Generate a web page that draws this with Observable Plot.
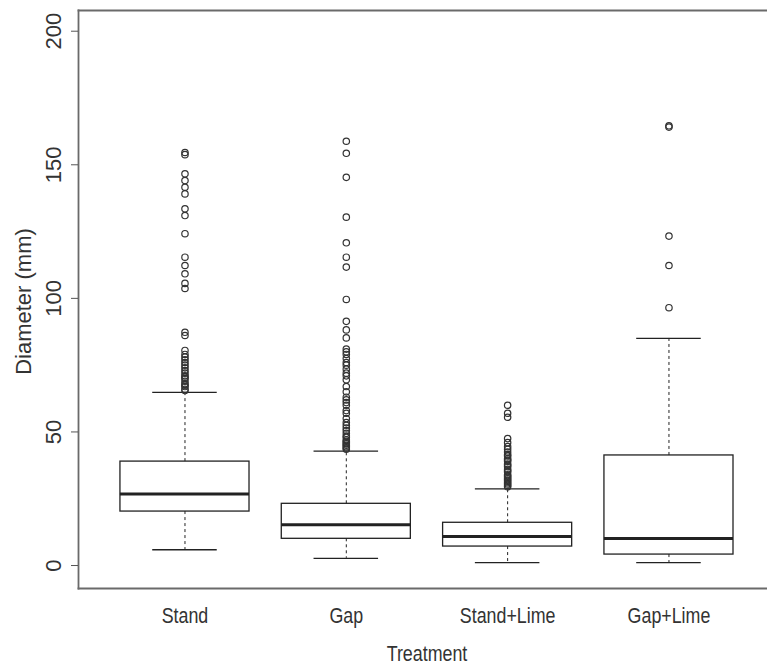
<!DOCTYPE html>
<html><head><meta charset="utf-8">
<script src="https://cdn.jsdelivr.net/npm/d3@7"></script>
<script src="https://cdn.jsdelivr.net/npm/@observablehq/plot@0.6"></script>
<style>body{margin:0;background:#fff}</style>
</head><body><div id="chart"></div>
<script>
const categories = ["Stand", "Gap", "Stand+Lime", "Gap+Lime"];
const lowerWhisker = [5.9, 2.7, 1.1, 1.1];
const q1 = [20.2, 10, 7.1, 4.1];
const median = [26.8, 15.3, 10.9, 10.1];
const q3 = [38.9, 23.1, 16, 41.2];
const upperWhisker = [64.8, 42.8, 28.7, 85];

const outliersStand = [154.6, 153.8, 146.6, 144.1, 141.6, 139.1, 133.5, 131, 124.2, 115.4, 112.3, 109.2, 105.6, 103.7, 87.3, 86.1,
  80.5, 79, 78, 77, 76, 75, 74, 73, 72, 71, 70.5, 70, 69, 68, 67.5, 67, 66, 65.5];
const outliersGap = [158.8, 154.3, 145.3, 130.4, 120.8, 115.4, 111.7, 99.6, 91.4, 88.2, 85.2, 81, 80, 79, 77.5, 76, 75, 73.5,
  72, 71, 69.5, 67, 65, 63, 62, 61, 60, 58, 57, 55, 53.5, 52.5, 51.5, 50.5, 49.5, 48.5, 48, 47, 46.5, 46, 45.5, 45, 44.5, 44, 43.5];
const outliersStandLime = [60, 57, 55.5, 47.5, 46, 44.5, 43.5, 42.5, 41.5, 41, 40, 39.5, 39, 38, 37.5, 37, 36, 35.5, 35, 34,
  33.5, 33, 32.5, 32, 31.5, 31, 30.5, 30, 29.5];
const outliersGapLime = [164.6, 164.1, 123.3, 112.3, 96.5];
const outlierLists = [outliersStand, outliersGap, outliersStandLime, outliersGapLime];

const yTicks = [0, 50, 100, 150, 200];
const xLabel = "Treatment";
const yLabel = "Diameter (mm)";

const boxes = categories.map((c, i) => ({
  pos: i + 1, name: c, lo: lowerWhisker[i], q1: q1[i], med: median[i], q3: q3[i], hi: upperWhisker[i]
}));
const outliers = outlierLists.flatMap((arr, i) => arr.map(v => ({pos: i + 1, v})));

const ink = "#222";
const chart = Plot.plot({
  width: 767,
  height: 666,
  marginLeft: 78,
  marginRight: 0,
  marginTop: 10,
  marginBottom: 78,
  style: {fontFamily: "'Liberation Sans', Arial, sans-serif", fontSize: "22px", color: "#333", background: "#fff"},
  x: {type: "linear", domain: [0.34, 0.34 + 689 / 161.33]},
  y: {domain: [-8.6, 207.75]},
  marks: [
    Plot.frame({anchor: "top", stroke: "#6a6a6a", strokeWidth: 1.8}),
    Plot.frame({anchor: "left", stroke: "#6a6a6a", strokeWidth: 1.8}),
    Plot.frame({anchor: "bottom", stroke: "#6a6a6a", strokeWidth: 1.8}),
    Plot.axisY(yTicks, {tickSize: 7, tickRotate: -90, tickPadding: 11, label: null, stroke: "#555"}),
    Plot.axisX([1, 2, 3, 4], {tickSize: 0, tickPadding: 19, tickFormat: i => categories[i - 1], label: null}),
    Plot.text([yLabel], {frameAnchor: "left", rotate: -90, textAnchor: "middle", dx: -55, dy: 2, fill: "#333"}),
    Plot.text([xLabel], {frameAnchor: "bottom", dy: 72, dx: 4, fill: "#333"}),
    Plot.ruleX(boxes, {x: "pos", y1: "q3", y2: "hi", stroke: ink, strokeDasharray: "3,3"}),
    Plot.ruleX(boxes, {x: "pos", y1: "q1", y2: "lo", stroke: ink, strokeDasharray: "3,3"}),
    Plot.ruleY(boxes, {y: "hi", x1: d => d.pos - 0.2, x2: d => d.pos + 0.2, stroke: ink, strokeWidth: 1.3}),
    Plot.ruleY(boxes, {y: "lo", x1: d => d.pos - 0.2, x2: d => d.pos + 0.2, stroke: ink, strokeWidth: 1.3}),
    Plot.rect(boxes, {x1: d => d.pos - 0.4, x2: d => d.pos + 0.4, y1: "q1", y2: "q3", fill: "none", stroke: ink, strokeWidth: 1.3}),
    Plot.ruleY(boxes, {y: "med", x1: d => d.pos - 0.4, x2: d => d.pos + 0.4, stroke: ink, strokeWidth: 3}),
    Plot.dot(outliers, {x: "pos", y: "v", r: 3.2, fill: "none", stroke: "#333", strokeWidth: 1.2})
  ]
});
document.getElementById("chart").appendChild(chart);
// the reference is horizontally condensed: narrow the horizontal (unrotated) texts
d3.select(chart).selectAll("text").each(function() {
  const t = this;
  const g = t.closest("g");
  const tr = (t.getAttribute("transform") || "") + (g ? (g.getAttribute("transform") || "") : "");
  if (/rotate\(\s*-?90/.test(tr)) return;
  const len = t.getComputedTextLength();
  if (len > 0) {
    t.setAttribute("textLength", (len * 0.81).toFixed(1));
    t.setAttribute("lengthAdjust", "spacingAndGlyphs");
  }
});
</script>
</body></html>
